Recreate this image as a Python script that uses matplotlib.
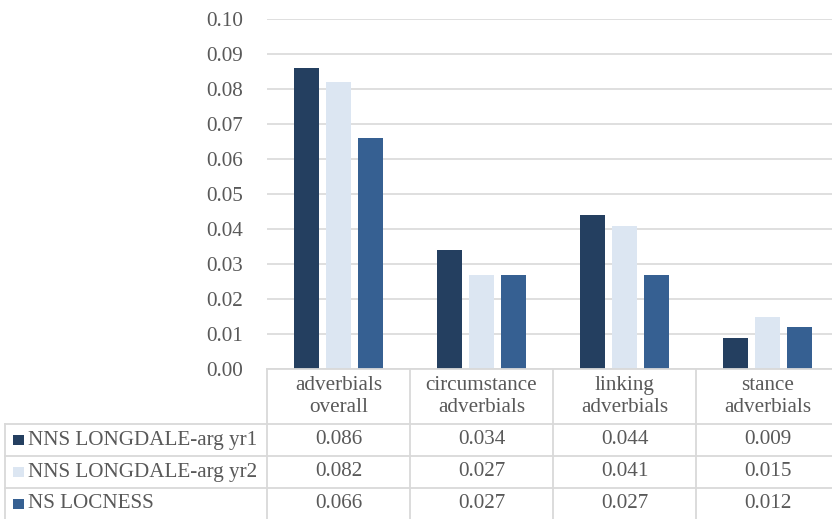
import matplotlib
matplotlib.use("Agg")
import matplotlib.pyplot as plt
from matplotlib.lines import Line2D
import matplotlib.transforms as mtransforms
import numpy as np

# データ
categories = ["adverbials\noverall", "circumstance\nadverbials", "linking\nadverbials", "stance\nadverbials"]
series_names = ["NNS LONGDALE-arg yr1", "NNS LONGDALE-arg yr2", "NS LOCNESS"]
yr1 = [0.086, 0.034, 0.044, 0.009]
yr2 = [0.082, 0.027, 0.041, 0.015]
locness = [0.066, 0.027, 0.027, 0.012]
yticks = [0.00, 0.01, 0.02, 0.03, 0.04, 0.05, 0.06, 0.07, 0.08, 0.09, 0.10]

colors = ["#243F60", "#DCE6F2", "#366092"]
text_color = "#595959"
grid_color = "#D9D9D9"

plt.rcParams["font.family"] = ["Liberation Serif", "DejaVu Serif"]
plt.rcParams["font.size"] = 15.2

W, H = 832, 519
fig = plt.figure(figsize=(W / 100, H / 100), dpi=100)

def fx(px):
    return px / W

def fy(py):
    return 1 - py / H

# グラフ部分
ax_left, ax_right = 267, 839
ax_top, ax_bottom = 19, 369
ax = fig.add_axes([fx(ax_left), fy(ax_bottom), fx(ax_right - ax_left), fy(ax_top) - fy(ax_bottom)])

x = np.arange(len(categories))
bw = 0.177
step = 0.224
for i, vals in enumerate([yr1, yr2, locness]):
    ax.bar(x + (i - 1) * step, vals, width=bw, color=colors[i], zorder=3)

ax.set_xlim(-0.5, len(categories) - 0.5)
ax.set_ylim(0, 0.10)
ax.set_yticks(yticks)
ax.set_yticklabels([f"{v:.2f}" for v in yticks], color=text_color)
ax.tick_params(axis="y", length=0, pad=17)
ax.set_xticks([])
ax.grid(axis="y", color=grid_color, linewidth=1.2, zorder=0)
for s in ax.spines.values():
    s.set_visible(False)

# データテーブル
line_kw = dict(color=grid_color, linewidth=1.3, transform=fig.transFigure)
row_lines = [369, 423.5, 455.5, 488]
fig.add_artist(Line2D([fx(267), fx(W)], [fy(369), fy(369)], **line_kw))
for ry in row_lines[1:]:
    fig.add_artist(Line2D([fx(4.5), fx(W)], [fy(ry), fy(ry)], **line_kw))
fig.add_artist(Line2D([fx(4.5), fx(4.5)], [fy(423.5), 0], **line_kw))

# 列の区切り（データ座標）
blend = mtransforms.blended_transform_factory(ax.transData, fig.transFigure)
for b in np.arange(len(categories)) - 0.5:
    fig.add_artist(Line2D([b, b], [fy(369), 0], color=grid_color, linewidth=1.3, transform=blend))

# 見出し
for i, c in enumerate(categories):
    fig.text(x[i], fy(396.5), c, transform=blend, ha="center", va="center",
             color=text_color, linespacing=1.15)

# 値
row_centers = [440, 472, 504]
for r, vals in enumerate([yr1, yr2, locness]):
    for i, v in enumerate(vals):
        fig.text(x[i], fy(row_centers[r]), f"{v:.3f}", transform=blend,
                 ha="center", va="center", color=text_color)
    fig.patches.append(plt.Rectangle((fx(13), fy(row_centers[r] + 5)), fx(11), fy(0) - fy(10),
                                     facecolor=colors[r], edgecolor="none",
                                     transform=fig.transFigure, figure=fig))
    fig.text(fx(28), fy(row_centers[r]), series_names[r], ha="left", va="center",
             color=text_color)

fig.savefig("out.png", dpi=100)
